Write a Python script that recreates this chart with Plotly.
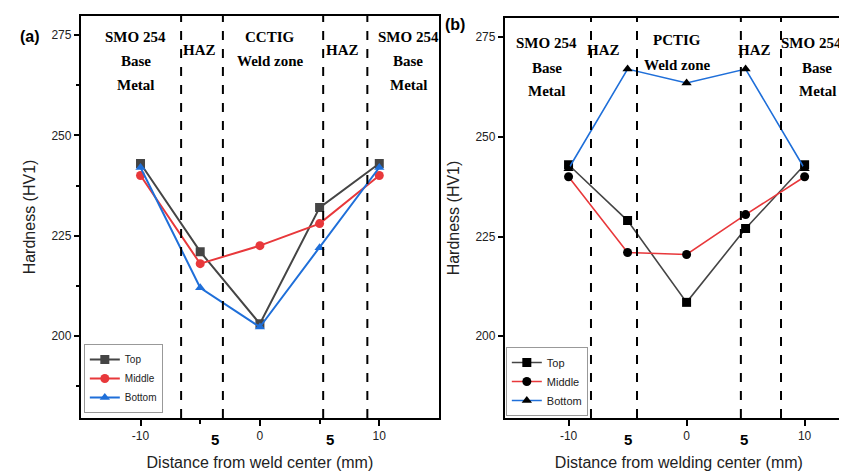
import plotly.graph_objects as go

# ---- data ----
distance = [-10, -5, 0, 5, 10]

cctig_top = [243, 221, 203, 232, 243]
cctig_middle = [240, 218, 222.5, 228, 240]
cctig_bottom = [242, 212, 202.2, 222, 242]

pctig_top = [243, 229, 208.5, 227, 243]
pctig_middle = [240, 221, 220.5, 230.5, 240]
pctig_bottom = [242, 267, 263.5, 267, 242]

series_names = ["Top", "Middle", "Bottom"]
line_colors = ["#454545", "#e8383b", "#1f6fd9"]
marker_symbols = ["square", "circle", "triangle-up"]

cctig_boundaries = [-6.6, -3.1, 5.3, 9.0]
pctig_boundaries = [-8.1, -4.2, 4.6, 8.0]

y_ticks = [200, 225, 250, 275]
x_ticks = [-10, 0, 10]
x_tick_text = ["-10", "0", "10"]

W, H = 847, 471

fig = go.Figure()

# left panel traces
for name, vals, col, sym in zip(series_names, [cctig_top, cctig_middle, cctig_bottom], line_colors, marker_symbols):
    fig.add_trace(go.Scatter(
        x=distance, y=vals, name=name, mode="lines+markers",
        line=dict(color=col, width=2),
        marker=dict(symbol=sym, size=9, color=col),
        xaxis="x", yaxis="y", legend="legend"))

# right panel traces (black markers)
for name, vals, col, sym in zip(series_names, [pctig_top, pctig_middle, pctig_bottom], line_colors, marker_symbols):
    fig.add_trace(go.Scatter(
        x=distance, y=vals, name=name, mode="lines+markers",
        line=dict(color=col, width=1.6),
        marker=dict(symbol=sym, size=9, color="black"),
        xaxis="x2", yaxis="y2", legend="legend2"))

# dashed region boundaries
for xb in cctig_boundaries:
    fig.add_shape(type="line", xref="x", yref="y domain", x0=xb, x1=xb, y0=0, y1=1,
                  line=dict(color="black", width=2, dash="dash"))
for xb in pctig_boundaries:
    fig.add_shape(type="line", xref="x2", yref="y2 domain", x0=xb, x1=xb, y0=0, y1=1,
                  line=dict(color="black", width=2, dash="dash"))

serif = "Liberation Serif, Times New Roman, serif"

def px(x):
    return x / W

def py(y):
    return 1 - y / H

region_labels = [
    # (text, x_px, y_px)
    ("SMO 254", 128, 29), ("Base", 128, 53), ("Metal", 128, 77),
    ("HAZ", 192, 42),
    ("CCTIG", 263, 29), ("Weld zone", 263, 53),
    ("HAZ", 335, 42),
    ("SMO 254", 401, 29), ("Base", 401, 53), ("Metal", 401, 77),
    ("SMO 254", 540, 35), ("Base", 540, 60), ("Metal", 540, 83),
    ("HAZ", 597, 42),
    ("PCTIG", 671, 32), ("Weld zone", 671, 57),
    ("HAZ", 748, 42),
    ("SMO 254", 805, 35), ("Base", 811, 60), ("Metal", 811, 83),
]
for txt, xp, yp in region_labels:
    fig.add_annotation(text="<b>%s</b>" % txt, x=px(xp), y=py(yp), xref="paper", yref="paper",
                       xanchor="center", yanchor="middle", showarrow=False,
                       font=dict(family=serif, size=15, color="black"))

# panel labels
fig.add_annotation(text="<b>(a)</b>", x=px(10), y=py(29), xref="paper", yref="paper",
                   xanchor="left", yanchor="middle", showarrow=False,
                   font=dict(family="Arial, Liberation Sans", size=16, color="black"))
fig.add_annotation(text="<b>(b)</b>", x=px(436), y=py(17), xref="paper", yref="paper",
                   xanchor="left", yanchor="middle", showarrow=False,
                   font=dict(family="Arial, Liberation Sans", size=16, color="black"))

# bold "5" tick labels
for xv, xr in [(-3.8, "x"), (5.9, "x"), (-5.0, "x2"), (4.9, "x2")]:
    fig.add_annotation(text="<b>5</b>", x=xv, y=py(431), xref=xr, yref="paper",
                       xanchor="center", yanchor="middle", showarrow=False,
                       font=dict(family="Arial, Liberation Sans", size=15, color="black"))

tickfont = dict(family="Arial, Liberation Sans", size=12, color="#222")
titlefont = dict(family="Arial, Liberation Sans", size=16, color="#222")

common_y = dict(range=[179.5, 279.8], tickvals=y_ticks, ticks="outside", ticklen=5, tickwidth=1.5,
                tickcolor="black", showline=True, linecolor="black", linewidth=2, mirror=True,
                showgrid=False, zeroline=False, tickfont=tickfont,
                title=dict(text="Hardness (HV1)", font=titlefont, standoff=12))
common_x = dict(tickvals=x_ticks, ticktext=x_tick_text, ticks="outside", ticklen=6, tickwidth=1.5,
                tickcolor="black", showline=True, linecolor="black", linewidth=2, mirror=True,
                showgrid=False, zeroline=False, tickfont=tickfont)

fig.update_layout(
    width=W, height=H,
    margin=dict(l=0, r=0, t=0, b=0),
    paper_bgcolor="white", plot_bgcolor="white",
    xaxis=dict(domain=[73 / W, 432 / W], range=[-15, 15], anchor="y",
               minor=dict(tickvals=[-5, 5], ticks="outside", ticklen=4, tickcolor="black"),
               title=dict(text="Distance from weld center (mm)", font=titlefont, standoff=14),
               **common_x),
    yaxis=dict(domain=[1 - 410 / H, 1 - 8 / H], anchor="x",
               minor=dict(tickvals=[187.5, 212.5, 237.5, 262.5], ticks="outside", ticklen=3, tickcolor="black"),
               **common_y),
    xaxis2=dict(domain=[498 / W, 1.0], range=[-15.4, 14.1], anchor="y2",
                title=dict(text="Distance from welding center (mm)", font=titlefont, standoff=14),
                **common_x),
    yaxis2=dict(domain=[1 - 410 / H, 1 - 10 / H], anchor="x2", **common_y),
    legend=dict(x=76 / W, y=1 - 405 / H, xanchor="left", yanchor="bottom",
                bgcolor="white", bordercolor="#999", borderwidth=1,
                font=dict(family="Arial, Liberation Sans", size=10, color="#222"),
                tracegroupgap=0),
    legend2=dict(x=499 / W, y=1 - 408 / H, xanchor="left", yanchor="bottom",
                 bgcolor="white", bordercolor="#999", borderwidth=1,
                 font=dict(family="Arial, Liberation Sans", size=11, color="#222"),
                 tracegroupgap=0),
    showlegend=True,
)

fig.write_html("out.html")
